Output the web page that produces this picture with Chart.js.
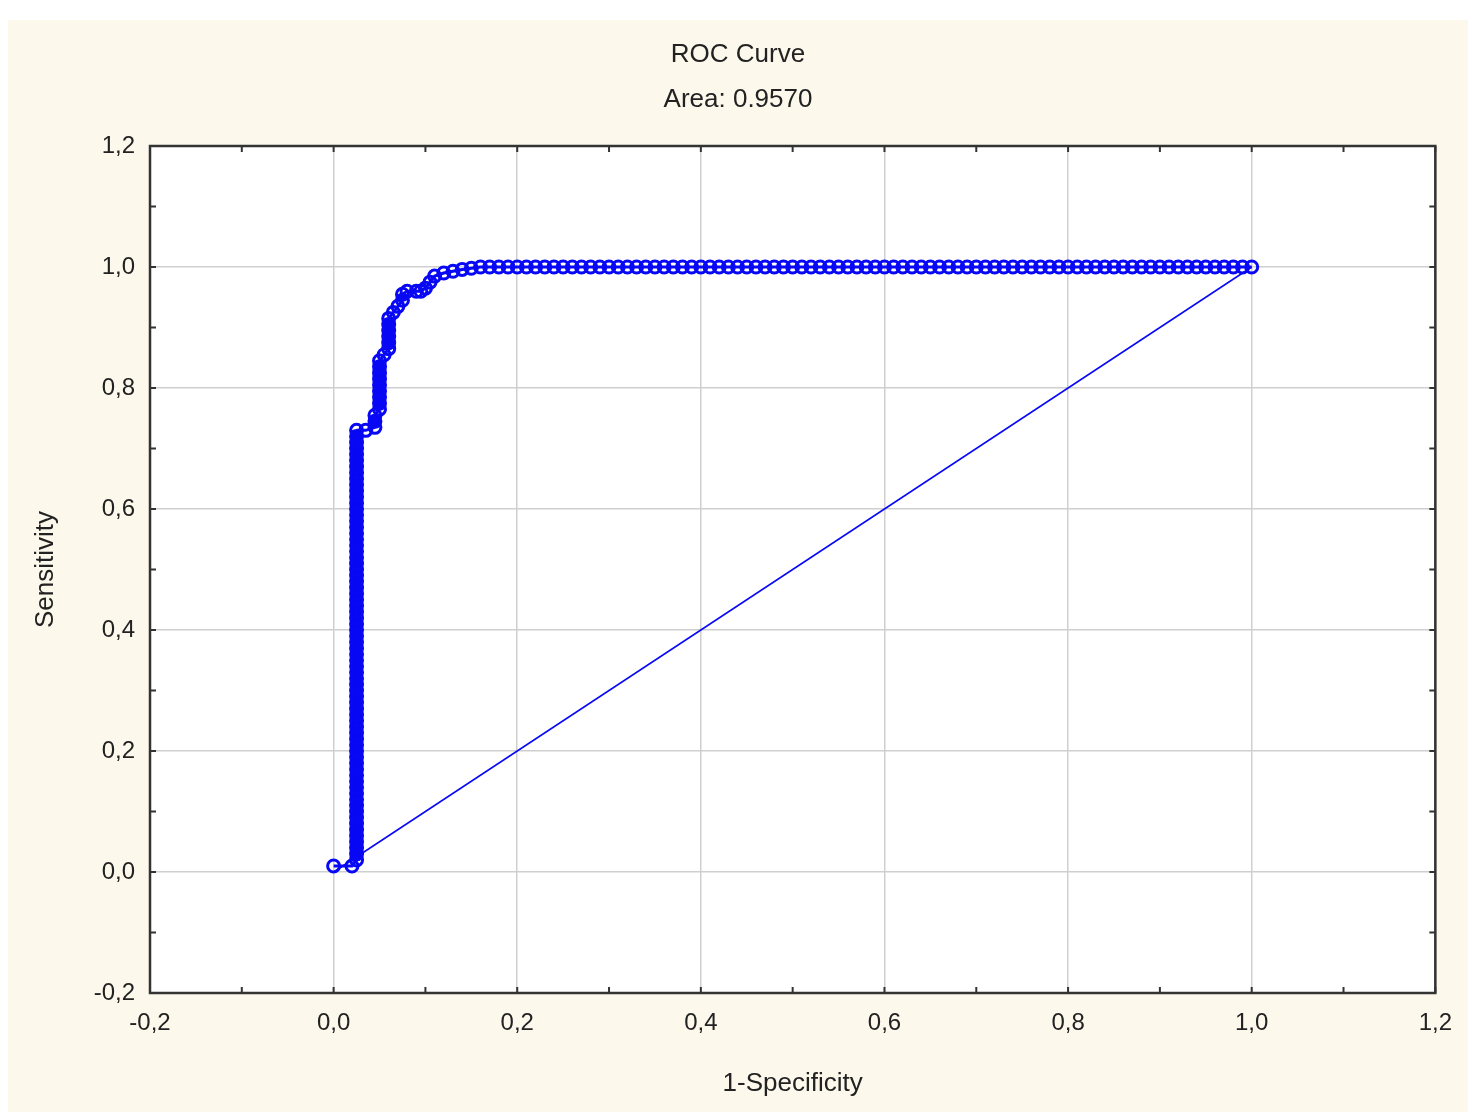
<!DOCTYPE html>
<html>
<head>
<meta charset="utf-8">
<script src="https://cdn.jsdelivr.net/npm/chart.js@4"></script>
<style>
  html, body { margin: 0; padding: 0; background: #ffffff; }
  #wrap { position: absolute; left: 0; top: 0; width: 1468px; height: 1112px; }
</style>
</head>
<body>
<div id="wrap"><canvas id="roc" width="1468" height="1112"></canvas></div>
<script>
// ROC curve points (1-specificity, sensitivity)
const fpr = [
  0.00, 0.02,
  // vertical stem
  0.025, 0.025, 0.025, 0.025, 0.025, 0.025, 0.025, 0.025, 0.025, 0.025, 0.025, 0.025,
  0.025, 0.025, 0.025, 0.025, 0.025, 0.025, 0.025, 0.025, 0.025, 0.025, 0.025, 0.025,
  0.025, 0.025, 0.025, 0.025, 0.025, 0.025, 0.025, 0.025, 0.025, 0.025, 0.025, 0.025,
  0.025, 0.025, 0.025, 0.025, 0.025, 0.025, 0.025, 0.025, 0.025, 0.025, 0.025, 0.025,
  0.025, 0.025, 0.025, 0.025, 0.025, 0.025, 0.025, 0.025, 0.025, 0.025, 0.025, 0.025,
  0.025, 0.025, 0.025, 0.025, 0.025, 0.025, 0.025, 0.025, 0.025, 0.025, 0.025, 0.025,
  // steps
  0.035, 0.045, 0.045, 0.045, 0.05, 0.05, 0.05, 0.05, 0.05, 0.05, 0.05, 0.05, 0.05,
  0.055, 0.06, 0.06, 0.06, 0.06, 0.06, 0.06, 0.065, 0.07, 0.075, 0.075,
  0.08, 0.09, 0.095, 0.10, 0.105, 0.11, 0.12, 0.13, 0.14, 0.15, 0.16,
  // plateau
  0.17, 0.18, 0.19, 0.20, 0.21, 0.22, 0.23, 0.24, 0.25, 0.26, 0.27, 0.28,
  0.29, 0.30, 0.31, 0.32, 0.33, 0.34, 0.35, 0.36, 0.37, 0.38, 0.39, 0.40,
  0.41, 0.42, 0.43, 0.44, 0.45, 0.46, 0.47, 0.48, 0.49, 0.50, 0.51, 0.52,
  0.53, 0.54, 0.55, 0.56, 0.57, 0.58, 0.59, 0.60, 0.61, 0.62, 0.63, 0.64,
  0.65, 0.66, 0.67, 0.68, 0.69, 0.70, 0.71, 0.72, 0.73, 0.74, 0.75, 0.76,
  0.77, 0.78, 0.79, 0.80, 0.81, 0.82, 0.83, 0.84, 0.85, 0.86, 0.87, 0.88,
  0.89, 0.90, 0.91, 0.92, 0.93, 0.94, 0.95, 0.96, 0.97, 0.98, 0.99, 1.00
];
const tpr = [
  0.01, 0.01,
  0.02, 0.03, 0.04, 0.05, 0.06, 0.07, 0.08, 0.09, 0.10, 0.11, 0.12, 0.13,
  0.14, 0.15, 0.16, 0.17, 0.18, 0.19, 0.20, 0.21, 0.22, 0.23, 0.24, 0.25,
  0.26, 0.27, 0.28, 0.29, 0.30, 0.31, 0.32, 0.33, 0.34, 0.35, 0.36, 0.37,
  0.38, 0.39, 0.40, 0.41, 0.42, 0.43, 0.44, 0.45, 0.46, 0.47, 0.48, 0.49,
  0.50, 0.51, 0.52, 0.53, 0.54, 0.55, 0.56, 0.57, 0.58, 0.59, 0.60, 0.61,
  0.62, 0.63, 0.64, 0.65, 0.66, 0.67, 0.68, 0.69, 0.70, 0.71, 0.72, 0.73,
  0.73, 0.735, 0.745, 0.755, 0.765, 0.775, 0.785, 0.795, 0.805, 0.815, 0.825, 0.835, 0.845,
  0.855, 0.865, 0.875, 0.885, 0.895, 0.905, 0.915, 0.925, 0.935, 0.945, 0.955,
  0.96, 0.96, 0.96, 0.965, 0.975, 0.985, 0.99, 0.993, 0.996, 0.998, 1.00,
  1.00, 1.00, 1.00, 1.00, 1.00, 1.00, 1.00, 1.00, 1.00, 1.00, 1.00, 1.00,
  1.00, 1.00, 1.00, 1.00, 1.00, 1.00, 1.00, 1.00, 1.00, 1.00, 1.00, 1.00,
  1.00, 1.00, 1.00, 1.00, 1.00, 1.00, 1.00, 1.00, 1.00, 1.00, 1.00, 1.00,
  1.00, 1.00, 1.00, 1.00, 1.00, 1.00, 1.00, 1.00, 1.00, 1.00, 1.00, 1.00,
  1.00, 1.00, 1.00, 1.00, 1.00, 1.00, 1.00, 1.00, 1.00, 1.00, 1.00, 1.00,
  1.00, 1.00, 1.00, 1.00, 1.00, 1.00, 1.00, 1.00, 1.00, 1.00, 1.00, 1.00,
  1.00, 1.00, 1.00, 1.00, 1.00, 1.00, 1.00, 1.00, 1.00, 1.00, 1.00, 1.00
];
// reference diagonal
const diagX = [0.0, 1.0];
const diagY = [0.0, 1.0];

const axisTicks = [-0.2, 0.0, 0.2, 0.4, 0.6, 0.8, 1.0, 1.2];
const minorTicks = [-0.1, 0.1, 0.3, 0.5, 0.7, 0.9, 1.1];

const titleLines = ["ROC Curve", "Area: 0.9570"];
const xTitle = "1-Specificity";
const yTitle = "Sensitivity";

const FONT = "'Liberation Sans', Arial, sans-serif";
const BLUE = "#0808f4";

function toXY(xs, ys) {
    return xs.map(function (x, i) { return { x: x, y: ys[i] }; });
}

function commaLabel(v) {
    return v.toFixed(1).replace(".", ",");
}

// beige page, white plot, dark frame and inward minor ticks
const framePlugin = {
    id: "frame",
    beforeDraw(chart) {
        const ctx = chart.ctx;
        const a = chart.chartArea;
        ctx.save();
        ctx.fillStyle = "#ffffff";
        ctx.fillRect(0, 0, chart.width, chart.height);
        ctx.fillStyle = "#fcf8ec";
        ctx.fillRect(8, 20, chart.width - 8, chart.height - 20);
        ctx.fillStyle = "#ffffff";
        ctx.fillRect(a.left, a.top, a.right - a.left, a.bottom - a.top);
        ctx.restore();
    },
    afterDraw(chart) {
        const ctx = chart.ctx;
        const a = chart.chartArea;
        const xs = chart.scales.x;
        const ys = chart.scales.y;
        ctx.save();
        ctx.strokeStyle = "#333333";
        ctx.lineWidth = 2;
        ctx.beginPath();
        axisTicks.concat(minorTicks).forEach(function (v) {
            const px = xs.getPixelForValue(v);
            ctx.moveTo(px, a.bottom); ctx.lineTo(px, a.bottom - 6);
            ctx.moveTo(px, a.top); ctx.lineTo(px, a.top + 6);
            const py = ys.getPixelForValue(v);
            ctx.moveTo(a.left, py); ctx.lineTo(a.left + 6, py);
            ctx.moveTo(a.right, py); ctx.lineTo(a.right - 6, py);
        });
        ctx.stroke();
        ctx.lineWidth = 2.5;
        ctx.strokeRect(a.left, a.top, a.right - a.left, a.bottom - a.top);
        ctx.restore();
    }
};

new Chart(document.getElementById("roc").getContext("2d"), {
    type: "scatter",
    data: {
        datasets: [
            {
                label: "Diagonal",
                data: toXY(diagX, diagY),
                showLine: true,
                borderColor: BLUE,
                borderWidth: 1.5,
                pointRadius: 0,
                order: 2
            },
            {
                label: "ROC",
                data: toXY(fpr, tpr),
                showLine: true,
                borderColor: BLUE,
                borderWidth: 3,
                // densely stacked markers on the vertical runs read as a solid bar
                segment: {
                    borderWidth: function (ctx) {
                        return ctx.p0.parsed.x === ctx.p1.parsed.x ? 11 : 3;
                    }
                },
                pointStyle: "circle",
                pointRadius: 6,
                pointBorderWidth: 3,
                pointBorderColor: BLUE,
                pointBackgroundColor: "rgba(255,255,255,0)",
                order: 1
            }
        ]
    },
    plugins: [framePlugin],
    options: {
        responsive: false,
        animation: false,
        layout: { padding: { left: 36, right: 28, top: 0, bottom: 0 } },
        plugins: {
            legend: { display: false },
            tooltip: { enabled: false },
            title: {
                display: true,
                text: titleLines,
                color: "#222222",
                font: { family: FONT, size: 26, weight: "normal", lineHeight: 1.75 },
                padding: { top: 32, bottom: 23 }
            }
        },
        scales: {
            x: {
                type: "linear",
                min: -0.2,
                max: 1.2,
                afterBuildTicks(scale) {
                    scale.ticks = axisTicks.map(function (v) { return { value: v }; });
                },
                afterFit(scale) { scale.height = 119; },
                border: { display: false },
                grid: { color: "#cfcfcf", lineWidth: 1.5, drawTicks: false },
                ticks: {
                    padding: 16,
                    color: "#222222",
                    maxRotation: 0,
                    font: { family: FONT, size: 24 },
                    callback: function (v) { return commaLabel(v); }
                },
                title: {
                    display: true,
                    text: xTitle,
                    color: "#222222",
                    font: { family: FONT, size: 26 },
                    padding: { top: 0, bottom: 13 }
                }
            },
            y: {
                type: "linear",
                min: -0.2,
                max: 1.2,
                afterBuildTicks(scale) {
                    scale.ticks = axisTicks.map(function (v) { return { value: v }; });
                },
                afterFit(scale) { scale.width = 114; },
                border: { display: false },
                grid: { color: "#cfcfcf", lineWidth: 1.5, drawTicks: false },
                ticks: {
                    padding: 15,
                    color: "#222222",
                    font: { family: FONT, size: 24 },
                    callback: function (v) { return commaLabel(v); }
                },
                title: {
                    display: true,
                    text: yTitle,
                    color: "#222222",
                    font: { family: FONT, size: 26 },
                    padding: { top: -6, bottom: 0 }
                }
            }
        }
    }
});
</script>
</body>
</html>
